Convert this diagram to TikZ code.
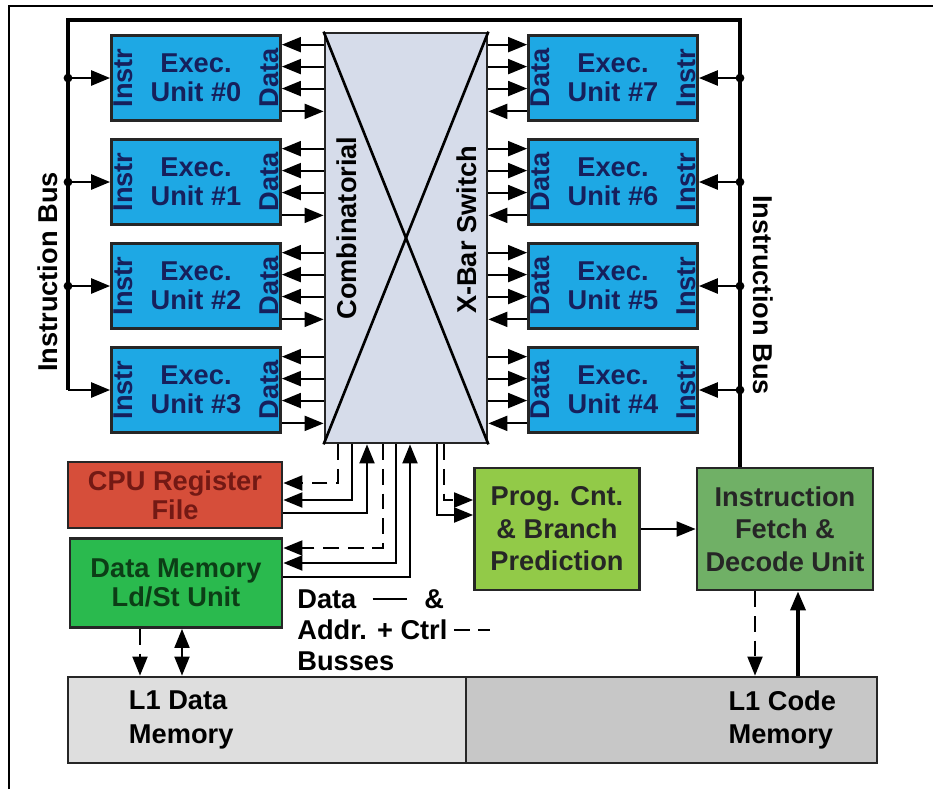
\documentclass[tikz,border=0pt]{standalone}
\usepackage{fontspec}
\setmainfont{Liberation Sans}
\usetikzlibrary{positioning,arrows.meta,calc}
\definecolor{unitblue}{RGB}{30,168,228}
\definecolor{unittext}{RGB}{22,32,92}
\definecolor{regred}{RGB}{214,78,58}
\definecolor{regtext}{RGB}{115,25,20}
\definecolor{memgreen}{RGB}{42,186,78}
\definecolor{memtext}{RGB}{12,62,22}
\definecolor{proggreen}{RGB}{146,202,72}
\definecolor{fetchgreen}{RGB}{112,176,102}
\definecolor{xbarfill}{RGB}{214,220,234}
\tikzset{
  box/.style={draw=black!85, line width=1.6pt, align=center, inner sep=1pt},
  unit/.style={box, fill=unitblue, text=unittext, minimum width=3.38cm, minimum height=1.7cm},
  sidetxt/.style={rotate=90, text=unittext, inner sep=0pt},
  xbarbox/.style={box, fill=xbarfill, minimum width=3.24cm, minimum height=8.2cm},
  regbox/.style={box, fill=regred, text=regtext, minimum width=4.28cm, minimum height=1.32cm},
  dmembox/.style={box, fill=memgreen, text=memtext, minimum width=4.24cm, minimum height=1.78cm},
  progbox/.style={box, fill=proggreen, text=black!85, minimum width=3.3cm, minimum height=2.44cm,
    font=\fontsize{15.5}{18.5}\selectfont\bfseries},
  fetchbox/.style={box, fill=fetchgreen, text=black!85, minimum width=3.52cm, minimum height=2.44cm,
    font=\fontsize{15.5}{18.5}\selectfont\bfseries},
  membox/.style={box, minimum height=1.72cm},
  memlabel/.style={align=left, inner sep=0pt, font=\fontsize{15.5}{19}\selectfont\bfseries},
  busline/.style={line width=2.2pt},
  branch/.style={line width=1.5pt, ->},
  dataline/.style={line width=1.1pt},
  ctrlline/.style={line width=1.1pt, dash pattern=on 9pt off 5pt},
  junction/.style={circle, fill=black, inner sep=0pt, minimum size=5pt}
}
\begin{document}
\begin{tikzpicture}[x=0.02cm, y=-0.02cm, >={Triangle[length=0.38cm,width=0.3cm]},
  every node/.style={font=\fontsize{15.5}{16.5}\selectfont\bfseries}]
  \useasboundingbox (0,0) rectangle (933,789);
  \draw[line width=0.8pt] (9,789) -- (9,6) -- (933,6);

  % crossbar
  \node[xbarbox] (xbar) at (406,238) {};
  \draw[line width=1.5pt] (xbar.north west) -- (xbar.south east);
  \draw[line width=1.5pt] (xbar.north east) -- (xbar.south west);
  \node[rotate=90] (combi) at (347,228) {Combinatorial};
  \node[rotate=90] (xsw) at (467,230) {X-Bar Switch};

  % execution units
  \foreach \i/\y in {0/78,1/182,2/286,3/390} {
    \node[unit] (u\i) at (196,\y) {Exec.\\Unit \#\i};
    \node[sidetxt] (ui\i) at ($(u\i.west)+(13,0)$) {Instr};
    \node[sidetxt] (ud\i) at ($(u\i.east)+(-13,0)$) {Data};
  }
  \foreach \i/\y in {7/78,6/182,5/286,4/390} {
    \node[unit] (u\i) at (613,\y) {Exec.\\Unit \#\i};
    \node[sidetxt] (ud\i) at ($(u\i.west)+(13,0)$) {Data};
    \node[sidetxt] (ui\i) at ($(u\i.east)+(-13,0)$) {Instr};
  }

  % data lines to the crossbar
  \foreach \i in {0,...,3}
    \foreach \f/\tip in {0.12/<-,0.37/<-,0.62/<-,0.88/->} {
      \coordinate (p) at ($(u\i.north east)!\f!(u\i.south east)$);
      \draw[dataline,\tip] (p) -- (p -| xbar.west);
    }
  \foreach \i in {4,...,7}
    \foreach \f/\tip in {0.12/->,0.37/->,0.62/->,0.88/<-} {
      \coordinate (p) at ($(u\i.north west)!\f!(u\i.south west)$);
      \draw[dataline,\tip] (p -| xbar.east) -- (p);
    }

  % lower blocks
  \node[regbox] (reg) at (175,495) {CPU Register\\File};
  \node[dmembox] (dmem) at (176,583) {Data Memory\\Ld/St Unit};
  \node[progbox] (prog) at (557,529) {Prog. Cnt.\\\& Branch\\Prediction};
  \node[fetchbox] (fetch) at (785,529) {Instruction\\Fetch \&\\Decode Unit};
  \node[membox, fill=black!13, minimum width=7.96cm] (l1d) at (267,720) {};
  \node[membox, fill=black!22, minimum width=8.22cm] (l1c) at (671.5,720) {};
  \node[memlabel, anchor=west] (l1dt) at ($(l1d.west)+(62,0)$) {L1 Data\\Memory};
  \node[memlabel, anchor=east] (l1ct) at ($(l1c.east)+(-42,0)$) {L1 Code\\Memory};

  % instruction bus
  \coordinate (busL) at (68,20);
  \coordinate (busR) at (740,20);
  \draw[busline] (busR |- fetch.north) -- (busR) -- (busL) -- (busL |- u3.west);
  \draw[branch] (busL |- u3.west) -- (u3.west);
  \foreach \i in {0,1,2} {
    \draw[branch] (busL |- u\i.west) -- (u\i.west);
    \node[junction] (jl\i) at (busL |- u\i.west) {};
  }
  \foreach \i in {4,...,7} {
    \draw[branch] (busR |- u\i.east) -- (u\i.east);
    \node[junction] (jr\i) at (busR |- u\i.east) {};
  }
  \node[rotate=90] (ibl) at (48,272) {Instruction Bus};
  \node[rotate=-90] (ibr) at (763,295) {Instruction Bus};

  % crossbar to register file, ld/st unit and program counter
  \coordinate (ra) at (338,483);
  \coordinate (rd) at (352,500);
  \coordinate (rw) at (367,513);
  \coordinate (ma) at (383,548);
  \coordinate (md) at (396,563);
  \coordinate (mw) at (410,577);
  \coordinate (pd) at (437,515);
  \coordinate (pa) at (444,500);
  \draw[ctrlline,->] (ra |- xbar.south) -- (ra) -- (ra -| reg.east);
  \draw[dataline,->] (rd |- xbar.south) -- (rd) -- (rd -| reg.east);
  \draw[dataline,->] (rw -| reg.east) -- (rw) -- (rw |- xbar.south);
  \draw[ctrlline,->] (ma |- xbar.south) -- (ma) -- (ma -| dmem.east);
  \draw[dataline,->] (md |- xbar.south) -- (md) -- (md -| dmem.east);
  \draw[dataline,->] (mw -| dmem.east) -- (mw) -- (mw |- xbar.south);
  \draw[dataline,->] (pd |- xbar.south) -- (pd) -- (pd -| prog.west);
  \draw[ctrlline,->] (pa |- xbar.south) -- (pa) -- (pa -| prog.west);
  \draw[dataline,->] (prog) -- (fetch);

  % memory links
  \coordinate (da) at (140,0);
  \coordinate (dd) at (182,0);
  \coordinate (fa) at (755,0);
  \coordinate (fd) at (798,0);
  \draw[ctrlline,->] (da |- dmem.south) -- (da |- l1d.north);
  \draw[dataline,<->] (dd |- dmem.south) -- (dd |- l1d.north);
  \draw[ctrlline,->] (fa |- fetch.south) -- (fa |- l1c.north);
  \draw[line width=2pt,->] (fd |- l1c.north) -- (fd |- fetch.south);

  % legend
  \node[anchor=west, inner sep=0pt] (lgdata) at (297,599) {Data};
  \node[anchor=west, inner sep=0pt] (lgamp) at (424,599) {\&};
  \node[anchor=west, inner sep=0pt] (lgaddr) at (297,630) {Addr. + Ctrl};
  \node[anchor=west, inner sep=0pt] (lgbus) at (297,661) {Busses};
  \draw[line width=1.6pt] ($(lgdata.east)+(16,0)$) -- ++(34,0);
  \draw[ctrlline] ($(lgaddr.east)+(6,0)$) -- ++(36,0);
\end{tikzpicture}
\end{document}
